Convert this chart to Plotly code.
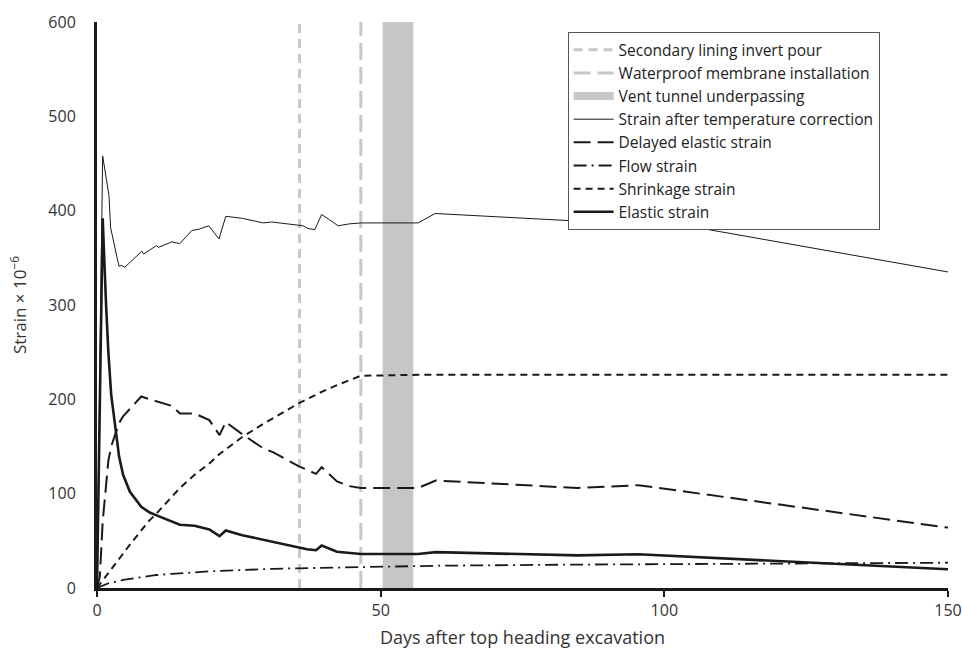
import plotly.graph_objects as go

# Event markers (days after top heading excavation)
invert_pour_day = 35.7
membrane_day = 46.5
vent_start_day = 50.35
vent_end_day = 55.75

# Total measured strain after temperature correction
days_total = [0, 1, 1.9, 2.1, 2.4, 2.9, 3.5, 3.9, 4.3, 4.9, 7.9, 8.2, 9.3, 10.5, 10.8,
              13.2, 14.6, 16.7, 17.8, 19.7, 21.5, 22.7, 25.5, 29.3, 30.8, 35.4, 36.3,
              37.2, 38.4, 39.6, 42.5, 44.5, 46.6, 56.6, 59.6, 84.7, 95.5, 150]
strain_total = [0, 458, 424, 417, 382, 367, 351, 341, 342, 340, 357, 354, 358, 363, 361,
                367, 365, 379, 380, 384, 370, 394, 392, 387, 388, 384, 384,
                381, 380, 396, 384, 386, 387, 387, 397, 389, 393, 335]

# Strain components
days = [0, 0.5, 1, 1.6, 2, 2.5, 3.2, 3.9, 4.6, 5.8,
        7.8, 9.3, 10.5, 13.2, 14.6, 17.2, 19.8, 21.6, 22.7, 25.6,
        29.3, 31, 35.6, 37, 38.6, 39.6, 42.3, 44.5, 46.5, 56.6,
        59.7, 84.7, 95.4, 150]
delayed_elastic = [0, 12, 70, 110, 135, 150, 163, 175, 182, 190,
                   203, 200, 198, 193, 185, 185, 178, 162, 176, 163,
                   148, 144, 129, 125, 121, 128, 113, 108, 106, 106,
                   114, 106, 109, 64]
flow = [0, 1.5, 3, 4, 5, 5.5, 6.5, 7.5, 8.5, 9.5,
        11.5, 12.8, 13.8, 15, 15.7, 16.8, 17.6, 18.2, 18.5, 19.2,
        20, 20.3, 20.9, 21.1, 21.3, 21.5, 21.9, 22.2, 22.5, 23.3,
        23.6, 24.8, 25.2, 26.8]
shrinkage = [0, 4, 8, 12, 16, 20, 26, 31, 37, 46,
             61, 72, 79, 97, 106, 120, 132, 142, 147, 160,
             174, 180, 196, 200, 205, 208, 215, 220, 225, 226,
             226, 226, 226, 226]
elastic = [0, 196, 392, 300, 250, 205, 170, 139, 120, 102,
           86, 80, 77, 70, 67, 66, 62, 55, 61, 56,
           51, 49, 43, 41, 40, 45, 38.5, 37, 36, 36,
           38, 34.6, 35.7, 19.8]

y_range = [0, 600]
x_range = [0, 150]
x_ticks = [0, 50, 100, 150]
y_ticks = [0, 100, 200, 300, 400, 500, 600]

INK = "#1a1a1a"
LIGHT = "#c8c8c8"
BAND = "#c6c6c8"
FONT = "Open Sans, Lato, sans-serif"

fig = go.Figure()

fig.add_trace(go.Scatter(
    x=[invert_pour_day, invert_pour_day], y=y_range, mode="lines",
    name="Secondary lining invert pour",
    line=dict(color=LIGHT, width=3, dash="9px,6px")))
fig.add_trace(go.Scatter(
    x=[membrane_day, membrane_day], y=y_range, mode="lines",
    name="Waterproof membrane installation",
    line=dict(color=LIGHT, width=3, dash="17px,7px")))
fig.add_trace(go.Scatter(
    x=[None], y=[None], mode="lines",
    name="Vent tunnel underpassing",
    line=dict(color=BAND, width=8)))
fig.add_trace(go.Scatter(
    x=days_total, y=strain_total, mode="lines",
    name="Strain after temperature correction",
    line=dict(color=INK, width=1)))
fig.add_trace(go.Scatter(
    x=days, y=delayed_elastic, mode="lines",
    name="Delayed elastic strain",
    line=dict(color=INK, width=2, dash="17px,7px")))
fig.add_trace(go.Scatter(
    x=days, y=flow, mode="lines",
    name="Flow strain",
    line=dict(color=INK, width=1.8, dash="13px,5px,2px,5px")))
fig.add_trace(go.Scatter(
    x=days, y=shrinkage, mode="lines",
    name="Shrinkage strain",
    line=dict(color=INK, width=2, dash="7px,5px")))
fig.add_trace(go.Scatter(
    x=days, y=elastic, mode="lines",
    name="Elastic strain",
    line=dict(color=INK, width=2.6)))

fig.add_shape(type="rect", xref="x", yref="y",
              x0=vent_start_day, x1=vent_end_day, y0=y_range[0], y1=y_range[1],
              fillcolor=BAND, line=dict(width=0), layer="below")

fig.update_layout(
    width=962, height=650,
    margin=dict(l=97, r=14, t=22, b=62, autoexpand=False),
    paper_bgcolor="white", plot_bgcolor="white",
    font=dict(family=FONT, size=15, color="#333333"),
    showlegend=True,
    legend=dict(
        x=0.553, y=0.982, xanchor="left", yanchor="top",
        bgcolor="white", bordercolor="#555555", borderwidth=1,
        font=dict(family=FONT, size=15.5, color="#222222"),
        tracegroupgap=0, itemwidth=40,
    ),
    xaxis=dict(
        range=x_range, tickvals=x_ticks, showgrid=False, zeroline=False,
        showline=True, linecolor=INK, linewidth=3, automargin=False,
        ticks="outside", ticklen=6, tickwidth=1.5, tickcolor=INK,
        tickfont=dict(size=16, color="#333333"),
        title=dict(text="Days after top heading excavation", standoff=12,
                   font=dict(size=18, color="#333333")),
    ),
    yaxis=dict(
        range=y_range, tickvals=y_ticks, showgrid=False, zeroline=False,
        showline=True, linecolor=INK, linewidth=3, automargin=False,
        ticks="", ticklabelstandoff=15,
        tickfont=dict(size=16, color="#333333"),
        title=dict(text="Strain × 10<sup>−6</sup>", standoff=18,
                   font=dict(size=17, color="#333333")),
    ),
)

fig.write_html("out.html")
